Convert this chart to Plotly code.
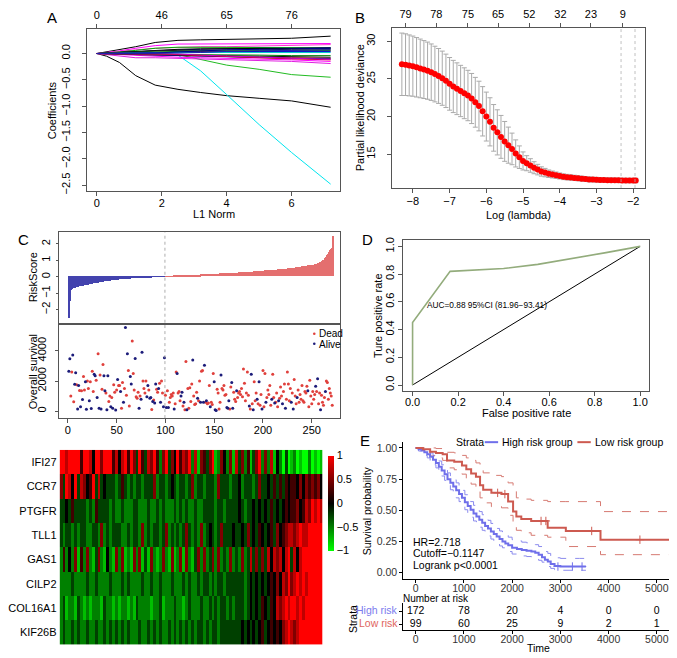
import plotly.graph_objects as go

# The page body has an 8px margin: the figure is sized to fill the rest of the window
PAGE_W, PAGE_H = 677, 658
OFF = 8
W, H = PAGE_W - OFF, PAGE_H - OFF
FONT = "Liberation Sans, Arial, sans-serif"


def px(x):
    return (x - OFF) / W


def py(y):
    return 1 - (y - OFF) / H


# ---------------- Panel A: LASSO coefficient paths ----------------
l1_norm = [0, 0.3, 0.7, 1.2, 1.8, 2.5, 3.2, 4.0, 5.0, 6.0, 7.2]
coef_paths = [
    [0, 0.03, 0.07, 0.13, 0.21, 0.25, 0.26, 0.27, 0.28, 0.29, 0.33],
    [0, -0.05, -0.17, -0.42, -0.60, -0.68, -0.74, -0.80, -0.85, -0.90, -1.02],
    [0, 0, 0, 0, -0.01, -0.03, -0.33, -0.78, -1.35, -1.88, -2.48],
    [0, 0, 0, 0, 0, -0.02, -0.12, -0.22, -0.30, -0.40, -0.45],
    [0, 0.02, 0.05, 0.10, 0.15, 0.18, 0.18, 0.18, 0.18, 0.18, 0.19],
    [0, 0.02, 0.04, 0.07, 0.10, 0.12, 0.13, 0.13, 0.14, 0.15, 0.17],
    [0, 0.01, 0.03, 0.06, 0.10, 0.12, 0.12, 0.12, 0.12, 0.11, 0.11],
    [0, 0.01, 0.02, 0.04, 0.06, 0.07, 0.08, 0.09, 0.10, 0.10, 0.11],
    [0, 0.01, 0.03, 0.05, 0.07, 0.08, 0.09, 0.09, 0.09, 0.10, 0.10],
    [0, 0.01, 0.02, 0.04, 0.05, 0.06, 0.06, 0.07, 0.07, 0.08, 0.08],
    [0, 0.005, 0.01, 0.02, 0.03, 0.03, 0.04, 0.04, 0.05, 0.05, 0.05],
    [0, 0, 0.01, 0.02, 0.03, 0.04, 0.05, 0.05, 0.06, 0.06, 0.06],
    [0, 0, 0.01, 0.01, 0.02, 0.02, 0.03, 0.03, 0.04, 0.04, 0.04],
    [0, 0, 0, 0.01, 0.01, 0.02, 0.02, 0.02, 0.02, 0.02, 0.02],
    [0, -0.01, -0.02, -0.04, -0.06, -0.07, -0.08, -0.09, -0.10, -0.12, -0.15],
    [0, -0.02, -0.05, -0.08, -0.08, -0.09, -0.10, -0.11, -0.13, -0.15, -0.19],
    [0, -0.01, -0.01, -0.02, -0.03, -0.04, -0.05, -0.06, -0.07, -0.08, -0.09],
    [0, 0, -0.01, -0.02, -0.03, -0.04, -0.05, -0.06, -0.08, -0.09, -0.10],
    [0, 0, -0.01, -0.01, -0.02, -0.03, -0.03, -0.04, -0.05, -0.06, -0.07],
    [0, 0, 0, -0.01, -0.01, -0.02, -0.02, -0.03, -0.03, -0.04, -0.04],
    [0, 0, 0, 0, -0.01, -0.02, -0.04, -0.06, -0.08, -0.10, -0.12],
    [0, 0, 0, 0, 0, -0.01, -0.03, -0.05, -0.07, -0.09, -0.11],
    [0, 0, 0, 0, 0.01, 0.03, 0.05, 0.07, 0.08, 0.09, 0.10],
    [0, 0, 0, 0, 0, 0.01, 0.02, 0.04, 0.05, 0.06, 0.07],
]
coef_colors = ["#000000", "#000000", "#00E5EE", "#22BB22", "#FF00FF", "#FF33CC",
               "#00B000", "#000080", "#000000", "#202020", "#FF0000", "#00A000",
               "#0000CC", "#00CCCC", "#FF00FF", "#E020E0", "#E00000", "#1010A0",
               "#101010", "#008000", "#CC0000", "#CC00CC", "#000090", "#2020B0"]
a_top_vals = [0, 2, 4, 6]
a_top_text = ["0", "46", "65", "76"]

# ---------------- Panel B: cross-validation ----------------
b_loglambda = [-8.3, -8.2, -8.1, -8.0, -7.9, -7.8, -7.7, -7.6, -7.5, -7.4,
               -7.3, -7.2, -7.1, -7.0, -6.9, -6.8, -6.7, -6.6, -6.5, -6.4,
               -6.3, -6.2, -6.1, -6.0, -5.9, -5.8, -5.7, -5.6, -5.5, -5.4,
               -5.3, -5.2, -5.1, -5.0, -4.9, -4.8, -4.7, -4.6, -4.5, -4.4,
               -4.3, -4.2, -4.1, -4.0, -3.9, -3.8, -3.7, -3.6, -3.5, -3.4,
               -3.3, -3.2, -3.1, -3.0, -2.9, -2.8, -2.7, -2.6, -2.5, -2.4,
               -2.3, -2.2, -2.1, -2.0, -1.93]
b_deviance = [26.95, 26.9, 26.8, 26.7, 26.55, 26.4, 26.25, 26.1, 25.9, 25.65,
              25.4, 25.1, 24.75, 24.35, 24.0, 23.7, 23.4, 23.1, 22.8, 22.4,
              21.9, 21.4, 20.7, 20.0, 19.3, 18.5, 17.9, 17.3, 16.7, 16.2,
              15.7, 15.1, 14.6, 14.1, 13.8, 13.5, 13.2, 12.95, 12.7, 12.55,
              12.4, 12.3, 12.2, 12.1, 12.0, 11.95, 11.9, 11.85, 11.8, 11.75,
              11.7, 11.65, 11.62, 11.6, 11.58, 11.56, 11.55, 11.54, 11.53, 11.52,
              11.51, 11.5, 11.5, 11.5, 11.5]
b_se = [4.15, 4.1, 4.05, 4.0, 3.95, 3.9, 3.85, 3.8, 3.75, 3.7,
        3.65, 3.6, 3.55, 3.5, 3.47, 3.44, 3.41, 3.38, 3.35, 3.33,
        3.31, 3.3, 3.28, 3.25, 3.2, 3.1, 3.0, 2.85, 2.65, 2.4,
        2.1, 1.8, 1.5, 1.2, 1.0, 0.9, 0.8, 0.7, 0.62, 0.56,
        0.5, 0.46, 0.43, 0.4, 0.38, 0.37, 0.36, 0.35, 0.34, 0.34,
        0.33, 0.33, 0.32, 0.32, 0.32, 0.31, 0.31, 0.31, 0.3, 0.3,
        0.3, 0.3, 0.3, 0.3, 0.3]
b_top_vals = [-8.2, -7.36, -6.5, -5.68, -4.83, -3.98, -3.15, -2.28]
b_top_text = ["79", "78", "75", "65", "52", "32", "23", "9"]
b_vlines = [-2.33, -1.95]

# ---------------- Panel C: risk score, survival, heatmap ----------------
risk_score = [
    -2.55, -1.5, -0.8, -0.74, -0.72, -0.7, -0.68, -0.66, -0.64, -0.62,
    -0.6, -0.58, -0.57, -0.56, -0.55, -0.54, -0.53, -0.52, -0.51, -0.5,
    -0.48, -0.46, -0.45, -0.44, -0.42, -0.41, -0.4, -0.39, -0.38, -0.37,
    -0.36, -0.35, -0.34, -0.33, -0.32, -0.31, -0.3, -0.29, -0.28, -0.27,
    -0.26, -0.25, -0.25, -0.24, -0.23, -0.22, -0.22, -0.21, -0.2, -0.2,
    -0.19, -0.18, -0.18, -0.17, -0.17, -0.16, -0.16, -0.15, -0.15, -0.14,
    -0.14, -0.13, -0.13, -0.12, -0.12, -0.11, -0.11, -0.1, -0.1, -0.09,
    -0.09, -0.085, -0.08, -0.075, -0.07, -0.065, -0.06, -0.055, -0.05, -0.048,
    -0.045, -0.042, -0.04, -0.037, -0.034, -0.031, -0.028, -0.025, -0.022, -0.02,
    -0.018, -0.016, -0.014, -0.012, -0.01, -0.008, -0.006, -0.004, -0.002,
    0.002, 0.005, 0.008, 0.012, 0.016, 0.02, 0.024, 0.028, 0.032, 0.036,
    0.04, 0.044, 0.048, 0.052, 0.056, 0.06, 0.063, 0.066, 0.069, 0.072,
    0.075, 0.078, 0.081, 0.084, 0.087, 0.09, 0.093, 0.096, 0.099, 0.102,
    0.105, 0.108, 0.111, 0.114, 0.117, 0.12, 0.123, 0.126, 0.129, 0.132,
    0.135, 0.138, 0.141, 0.144, 0.147, 0.15, 0.153, 0.156, 0.159, 0.162,
    0.165, 0.168, 0.171, 0.174, 0.177, 0.18, 0.183, 0.186, 0.189, 0.192,
    0.195, 0.198, 0.201, 0.204, 0.207, 0.21, 0.213, 0.216, 0.219, 0.222,
    0.225, 0.228, 0.231, 0.235, 0.239, 0.243, 0.247, 0.251, 0.255, 0.259,
    0.263, 0.267, 0.271, 0.275, 0.279, 0.283, 0.287, 0.291, 0.295, 0.3,
    0.305, 0.31, 0.315, 0.32, 0.325, 0.33, 0.335, 0.34, 0.345, 0.35,
    0.355, 0.36, 0.365, 0.37, 0.375, 0.38, 0.385, 0.39, 0.395, 0.4,
    0.405, 0.41, 0.415, 0.42, 0.425, 0.43, 0.436, 0.442, 0.448, 0.454,
    0.46, 0.466, 0.472, 0.478, 0.484, 0.49, 0.497, 0.504, 0.511, 0.518,
    0.525, 0.532, 0.54, 0.548, 0.556, 0.564, 0.572, 0.58, 0.59, 0.6,
    0.61, 0.62, 0.63, 0.64, 0.65, 0.66, 0.67, 0.68, 0.69, 0.7,
    0.71, 0.72, 0.73, 0.74, 0.76, 0.78, 0.8, 0.83, 0.86, 0.9,
    0.94, 0.98, 1.03, 1.1, 1.18, 1.28, 1.4, 1.52, 1.6, 1.65,
    1.75, 2.45]
n_low_risk = 99

surv_time = [
    2650, 3480, 1000, 2600, 3720, 620, 1780, 2550, 1760, 150,
    1700, 1380, 300, 1350, 780, 2300, 1400, 1950, 130, 2000,
    1500, 700, 1950, 180, 2650, 1300, 2450, 2350, 2050, 900,
    3800, 200, 2400, 150, 1450, 3100, 2350, 1350, 1200, 100,
    2350, 650, 1000, 300, 900, 200, 1750, 1250, 80, 1400,
    2100, 1700, 1700, 1300, 200, 1900, 600, 1500, 5550, 1050,
    3800, 2700, 350, 2300, 1800, 4650, 2500, 1400, 3500, 950,
    850, 1250, 200, 1000, 800, 3900, 2000, 1500, 1200, 2000,
    950, 1700, 1400, 850, 900, 120, 650, 750, 550, 1800,
    1450, 1250, 1500, 1850, 600, 2000, 1200, 300, 3550, 1050,
    250, 1350, 250, 600, 900, 1100, 1000, 1200, 150, 500,
    2600, 2500, 1200, 1300, 700, 1000, 1250, 350, 600, 100,
    3300, 100, 1500, 200, 1550, 650, 1800, 3400, 1000, 450,
    500, 1250, 850, 700, 2000, 600, 2650, 2700, 600, 3050,
    600, 700, 500, 550, 1700, 300, 600, 450, 2500, 1950,
    100, 50, 1450, 1200, 150, 600, 2400, 1500, 1400, 1700,
    1050, 1100, 250, 200, 700, 150, 1600, 1900, 200, 1250,
    800, 650, 1350, 900, 1200, 1300, 1100, 1500, 950, 2800,
    1850, 700, 1200, 2600, 1050, 350, 150, 2450, 500, 100,
    1950, 700, 1200, 800, 500, 1950, 400, 1100, 150, 2700,
    300, 2500, 600, 900, 1400, 1100, 1700, 400, 800, 2450,
    900, 550, 600, 1200, 300, 700, 850, 1600, 1000, 500,
    1300, 1800, 200, 800, 2600, 1800, 700, 1500, 600, 1200,
    150, 2100, 1000, 500, 900, 1400, 600, 1100, 800, 1700,
    700, 600, 1300, 1200, 1650, 1350, 300, 2050, 1000, 500,
    1300, 800, 1100, 1650, 1300, 2150, 500, 1200, 100, 1050,
    600, 400, 900, 1300, 2000, 1900, 800, 1500, 1200, 1000,
    400]
surv_status = ("AADDADAADA" "ADADADDAAD" "DADADDAADA" "DADADDAADA" "ADDADADDAD"
               "ADDADDADAD" "ADDAADDDAD" "DDADAADDDD" "AADAADADAA" "DDADADDAAD"
               "ADADDDDDAD" "DADDDAADAD" "DADDDDDADD" "DDADDADDAA" "DADDDADDDA"
               "AADDDDADDD" "DDAAADDAAD" "DDADDDDDDD" "DDDDDADADA" "DDDADADDAD"
               "DDADDDDDAD" "DADDDADDDA" "DDADDDDDAD" "ADDDADDDDD" "DDDDDADDDD"
               "DDDADADDAD" "DDDADDDDDD" "D")

genes = ["IFI27", "CCR7", "PTGFR", "TLL1", "GAS1", "CILP2", "COL16A1", "KIF26B"]
# expression levels coded 0..8  (0 = -1, 4 = 0, 8 = +1)
expr_IFI27 = ("8878888588" "7488688857" "4785863853" "7685268364" "8576827165"
              "3681264261" "7362513682" "6271420301" "2010020101")
expr_CCR7 = ("6387483764" "5837343332" "3532323323" "3362332343" "2332362332"
             "3332633323" "3423332363" "3435353545" "5464656564")
expr_PTGFR = ("3343533332" "3253333232" "2322233222" "3223232223" "2323223223"
              "3332332333" "3432334343" "4353434545" "5645768787")
expr_TLL1 = ("3233232332" "2332623233" "3223233262" "3233236232" "3236323262"
             "3432363334" "3343634354" "3453645677" "6787788888")
expr_GAS1 = ("2524261526" "2136214216" "2612162613" "1621262161" "2616213626"
             "2362623262" "3262373636" "3747674783" "7478888888")
expr_CILP2 = ("2222322223" "2232222322" "2323222232" "2322322232" "2232322323"
              "3232332333" "3332343434" "3454647686" "7878788888")
expr_COL16A1 = ("2312213212" "1222132212" "1221213222" "2122312223" "2212322232"
                "2323233232" "3332343435" "4354767878" "8787888888")
expr_KIF26B = ("2322323223" "2232232323" "2323222322" "3232322323" "2323232332"
               "3233233333" "3343434345" "3454546787" "6788888888")
expr_codes = [expr_IFI27, expr_CCR7, expr_PTGFR, expr_TLL1, expr_GAS1,
              expr_CILP2, expr_COL16A1, expr_KIF26B]

# ---------------- Panel D: ROC ----------------
roc_fpr = [0.0, 0.0, 0.165, 0.4, 0.55, 0.7, 0.85, 1.0]
roc_tpr = [0.0, 0.45, 0.82, 0.84, 0.87, 0.91, 0.955, 1.0]

# ---------------- Panel E: Kaplan-Meier ----------------
high_t = [0, 60, 120, 180, 240, 300, 360, 420, 480, 540,
          600, 660, 720, 780, 840, 900, 960, 1020, 1080, 1140,
          1200, 1260, 1320, 1380, 1440, 1500, 1560, 1620, 1680, 1740,
          1800, 1860, 1920, 2000, 2100, 2200, 2300, 2400, 2480, 2550,
          2620, 2680, 2740, 2800, 2880, 3000, 3200, 3400, 3530]
high_s = [1.0, 0.99, 0.98, 0.965, 0.95, 0.93, 0.905, 0.88, 0.85, 0.82,
          0.79, 0.75, 0.72, 0.69, 0.66, 0.63, 0.60, 0.565, 0.535, 0.505,
          0.475, 0.45, 0.425, 0.40, 0.375, 0.355, 0.33, 0.31, 0.29, 0.27,
          0.25, 0.235, 0.22, 0.2, 0.19, 0.182, 0.176, 0.17, 0.16, 0.145,
          0.125, 0.105, 0.09, 0.07, 0.055, 0.05, 0.05, 0.05, 0.05]
high_hi = [1.0, 1.0, 0.995, 0.985, 0.975, 0.96, 0.94, 0.92, 0.895, 0.865,
           0.84, 0.80, 0.775, 0.745, 0.72, 0.69, 0.66, 0.625, 0.6, 0.57,
           0.54, 0.515, 0.49, 0.465, 0.44, 0.42, 0.395, 0.375, 0.355, 0.335,
           0.315, 0.3, 0.285, 0.265, 0.255, 0.245, 0.24, 0.235, 0.225, 0.21,
           0.19, 0.17, 0.155, 0.135, 0.12, 0.115, 0.115, 0.115, 0.115]
high_lo = [1.0, 0.975, 0.96, 0.94, 0.92, 0.895, 0.865, 0.84, 0.805, 0.775,
           0.74, 0.70, 0.665, 0.635, 0.6, 0.57, 0.54, 0.505, 0.475, 0.445,
           0.415, 0.39, 0.365, 0.34, 0.315, 0.295, 0.27, 0.255, 0.235, 0.215,
           0.2, 0.185, 0.17, 0.15, 0.14, 0.135, 0.13, 0.125, 0.115, 0.1,
           0.085, 0.065, 0.05, 0.035, 0.025, 0.02, 0.02, 0.02, 0.02]
low_t = [0, 150, 300, 420, 560, 650, 800, 960, 1050, 1150,
         1250, 1335, 1400, 1570, 1780, 1917, 2020, 2088, 2190, 2395,
         2737, 3114, 3833, 5330]
low_s = [1.0, 0.99, 0.97, 0.96, 0.95, 0.90, 0.89, 0.86, 0.83, 0.795,
         0.77, 0.70, 0.665, 0.64, 0.63, 0.57, 0.49, 0.45, 0.43, 0.415,
         0.36, 0.335, 0.265, 0.265]
low_hi = [1.0, 1.0, 1.0, 0.995, 0.99, 0.965, 0.96, 0.94, 0.92, 0.9,
          0.88, 0.83, 0.8, 0.78, 0.77, 0.72, 0.65, 0.6, 0.59, 0.58,
          0.57, 0.57, 0.49, 0.49]
low_lo = [1.0, 0.97, 0.935, 0.92, 0.9, 0.84, 0.825, 0.79, 0.75, 0.71,
          0.68, 0.6, 0.56, 0.53, 0.52, 0.46, 0.38, 0.34, 0.32, 0.3,
          0.285, 0.21, 0.145, 0.145]
high_cens_t = [2950, 3250, 3450]
high_cens_s = [0.05, 0.05, 0.05]
low_cens_t = [1700, 1850, 2600, 2700, 3650, 4650]
low_cens_s = [0.64, 0.63, 0.415, 0.415, 0.335, 0.265]
risk_times = [0, 1000, 2000, 3000, 4000, 5000]
n_high = [172, 78, 20, 4, 0, 0]
n_low = [99, 60, 25, 9, 2, 1]

# =====================================================================
BLUE_KM = "#6F6FEA"
RED_KM = "#CD5A50"
BAR_BLUE = "#4343AE"
BAR_RED = "#E46F6F"
FRAME = "#555555"
EFS = 10.5  # ggplot text size

fig = go.Figure()

# --- A ---
for vals, col in zip(coef_paths, coef_colors):
    fig.add_trace(go.Scatter(x=l1_norm, y=vals, mode="lines",
                             line=dict(color=col, width=1), xaxis="x", yaxis="y",
                             showlegend=False, hoverinfo="skip"))
fig.add_trace(go.Scatter(x=[0], y=[0], mode="markers", marker=dict(opacity=0),
                         xaxis="x2", yaxis="y", showlegend=False, hoverinfo="skip"))

# --- B ---
fig.add_trace(go.Scatter(x=b_loglambda, y=b_deviance, mode="markers",
                         marker=dict(color="#FF0000", size=6),
                         error_y=dict(type="data", array=b_se, color="#AAAAAA",
                                      thickness=1, width=2.5),
                         xaxis="x3", yaxis="y3", showlegend=False, hoverinfo="skip"))
fig.add_trace(go.Scatter(x=[-5], y=[20], mode="markers", marker=dict(opacity=0),
                         xaxis="x4", yaxis="y3", showlegend=False, hoverinfo="skip"))

# --- C top: risk score bars ---
idx = list(range(1, len(risk_score) + 1))
bar_cols = [BAR_BLUE if i <= n_low_risk else BAR_RED for i in idx]
fig.add_trace(go.Bar(x=idx, y=risk_score, marker=dict(color=bar_cols, line=dict(width=0)),
                     width=1.0, xaxis="x5", yaxis="y5", showlegend=False, hoverinfo="skip"))

# --- C middle: survival scatter ---
dead_x, dead_y, alive_x, alive_y = [], [], [], []
for i, (t, s) in enumerate(zip(surv_time, surv_status), start=1):
    if s == "D":
        dead_x.append(i); dead_y.append(t)
    else:
        alive_x.append(i); alive_y.append(t)
fig.add_trace(go.Scatter(x=dead_x, y=dead_y, mode="markers",
                         marker=dict(color="#E0403C", size=3),
                         xaxis="x6", yaxis="y6", showlegend=False, hoverinfo="skip"))
fig.add_trace(go.Scatter(x=alive_x, y=alive_y, mode="markers",
                         marker=dict(color="#1C1C7A", size=3),
                         xaxis="x6", yaxis="y6", showlegend=False, hoverinfo="skip"))

# --- C bottom: heatmap ---
ncol = min(len(s) for s in expr_codes)
z = [[int(c) / 4.0 - 1.0 for c in s[:ncol]] for s in expr_codes]
fig.add_trace(go.Heatmap(
    z=z, x=list(range(ncol)), y=list(range(len(genes))),
    colorscale=[[0, "#00FF00"], [0.5, "#000000"], [1, "#FF0000"]],
    zmin=-1, zmax=1, xaxis="x7", yaxis="y7", hoverinfo="skip",
    colorbar=dict(x=px(325), xanchor="left", y=py(503.5), yanchor="middle",
                  len=(552 - 455) / H, lenmode="fraction", thickness=6,
                  thicknessmode="pixels", outlinewidth=0, xpad=0, ypad=0,
                  tickvals=[-1, -0.5, 0, 0.5, 1], ticktext=["\u22121", "\u22120.5", "0", "0.5", "1"],
                  ticks="", tickfont=dict(size=11, family=FONT, color="black"))))

# --- D: ROC ---
fig.add_trace(go.Scatter(x=[0, 1], y=[0, 1], mode="lines", line=dict(color="black", width=1),
                         xaxis="x8", yaxis="y8", showlegend=False, hoverinfo="skip"))
fig.add_trace(go.Scatter(x=roc_fpr, y=roc_tpr, mode="lines", line=dict(color="#93AC7C", width=1.6),
                         xaxis="x8", yaxis="y8", showlegend=False, hoverinfo="skip"))

# --- E: KM ---
for t, lo, hi, col in [(high_t, high_lo, high_hi, BLUE_KM), (low_t, low_lo, low_hi, RED_KM)]:
    for arr in (lo, hi):
        fig.add_trace(go.Scatter(x=t, y=arr, mode="lines", line=dict(color=col, width=1, dash="dash", shape="hv"),
                                 opacity=0.8, xaxis="x9", yaxis="y9", showlegend=False, hoverinfo="skip"))
fig.add_trace(go.Scatter(x=high_t, y=high_s, mode="lines", line=dict(color=BLUE_KM, width=2, shape="hv"),
                         xaxis="x9", yaxis="y9", showlegend=False, hoverinfo="skip"))
fig.add_trace(go.Scatter(x=low_t, y=low_s, mode="lines", line=dict(color=RED_KM, width=2, shape="hv"),
                         xaxis="x9", yaxis="y9", showlegend=False, hoverinfo="skip"))
fig.add_trace(go.Scatter(x=high_cens_t, y=high_cens_s, mode="markers",
                         marker=dict(symbol="cross-thin", size=6, line=dict(color=BLUE_KM, width=1)),
                         xaxis="x9", yaxis="y9", showlegend=False, hoverinfo="skip"))
fig.add_trace(go.Scatter(x=low_cens_t, y=low_cens_s, mode="markers",
                         marker=dict(symbol="cross-thin", size=6, line=dict(color=RED_KM, width=1)),
                         xaxis="x9", yaxis="y9", showlegend=False, hoverinfo="skip"))

# --- risk table ---
fig.add_trace(go.Scatter(x=risk_times, y=[1] * len(n_high), mode="text",
                         text=[str(v) for v in n_high], textfont=dict(size=EFS, family=FONT, color="black"),
                         xaxis="x10", yaxis="y10", showlegend=False, hoverinfo="skip"))
fig.add_trace(go.Scatter(x=risk_times, y=[0] * len(n_low), mode="text",
                         text=[str(v) for v in n_low], textfont=dict(size=EFS, family=FONT, color="black"),
                         xaxis="x10", yaxis="y10", showlegend=False, hoverinfo="skip"))

# =====================================================================
tf = dict(size=11, family=FONT, color="black")


def rbox(domain, rng, **kw):
    d = dict(domain=domain, range=rng, showgrid=False, zeroline=False, showline=True,
             mirror=True, linecolor=FRAME, linewidth=1, ticks="outside", ticklen=4,
             tickcolor=FRAME, tickfont=tf)
    d.update(kw)
    return d


xA = [px(82), px(337)]
yA = [py(186), py(21)]
xB = [px(389), px(645)]
yB = [py(183), py(20)]
xC = [px(53), px(337)]
c_range = [-9.5, 279]
xD = [px(401), px(649)]
xE = [px(400.7), px(673)]
e_range = [-259, 5337]
e_tick = dict(size=EFS, family=FONT, color="#333333")

layout = dict(
    width=W, height=H, margin=dict(l=0, r=0, t=0, b=0),
    paper_bgcolor="white", plot_bgcolor="rgba(0,0,0,0)", bargap=0,
    font=dict(family=FONT, size=11, color="black"),
    showlegend=False,
    xaxis=rbox(xA, [-0.29, 7.49], anchor="y", tickvals=[0, 2, 4, 6], ticklabelstandoff=-2),
    xaxis2=dict(overlaying="x", side="top", anchor="y", range=[-0.29, 7.49],
                tickvals=a_top_vals, ticktext=a_top_text, ticks="outside", ticklen=4,
                tickcolor=FRAME, showgrid=False, zeroline=False, showline=False, tickfont=tf),
    yaxis=rbox(yA, [-2.61, 0.47], anchor="x", tickvals=[-2.5, -2.0, -1.5, -1.0, -0.5, 0.0],
               tickformat=".1f", tickangle=-90, ticklabelstandoff=8),
    xaxis3=rbox(xB, [-8.58, -1.67], anchor="y3", tickvals=[-8, -7, -6, -5, -4, -3, -2],
                ticklabelstandoff=-1),
    xaxis4=dict(overlaying="x3", side="top", anchor="y3", range=[-8.58, -1.67],
                tickvals=b_top_vals, ticktext=b_top_text, ticks="outside", ticklen=4,
                tickcolor=FRAME, showgrid=False, zeroline=False, showline=False, tickfont=tf),
    yaxis3=rbox(yB, [10.5, 31.8], anchor="x3", tickvals=[15, 20, 25, 30], tickangle=-90,
                ticklabelstandoff=7),
    xaxis5=rbox(xC, c_range, anchor="y5", showticklabels=False, ticks=""),
    yaxis5=rbox([py(320), py(228)], [-2.8, 2.71], anchor="x5", tickvals=[-2, -1, 0, 1, 2],
                tickangle=-90, ticklen=2, ticklabelstandoff=1),
    xaxis6=rbox(xC, c_range, anchor="y6", tickvals=[0, 50, 100, 150, 200, 250],
                ticklabelstandoff=-2),
    yaxis6=rbox([py(417), py(322)], [-456, 5733], anchor="x6", tickvals=[0, 2000, 4000],
                tickangle=-90, ticklen=3, ticklabelstandoff=4),
    xaxis7=dict(domain=[px(54), px(319.3)], range=[-0.5, ncol - 0.5], anchor="y7",
                showticklabels=False, ticks="", showgrid=False, zeroline=False, showline=False),
    yaxis7=dict(domain=[py(647.3), py(449.3)], range=[len(genes) - 0.5, -0.5], anchor="x7",
                tickvals=list(range(len(genes))), ticktext=genes, ticks="", showgrid=False,
                zeroline=False, showline=False, tickfont=tf, ticklabelstandoff=2),
    xaxis8=rbox(xD, [-0.04, 1.04], anchor="y8", tickvals=[0, 0.2, 0.4, 0.6, 0.8, 1.0],
                tickformat=".1f", ticklabelstandoff=-3),
    yaxis8=rbox([py(389), py(236)], [-0.04, 1.045], anchor="x8",
                tickvals=[0, 0.2, 0.4, 0.6, 0.8, 1.0], tickformat=".1f", tickangle=-90,
                ticklabelstandoff=0),
    xaxis9=dict(domain=xE, range=e_range, anchor="y9", tickvals=risk_times, showgrid=False,
                zeroline=False, showline=True, linecolor="black", linewidth=1, ticks="outside",
                ticklen=3, tickcolor="black", tickfont=e_tick, ticklabelstandoff=-4),
    yaxis9=dict(domain=[py(580.7), py(441)], range=[-0.05, 1.05], anchor="x9",
                tickvals=[0, 0.25, 0.5, 0.75, 1.0], ticktext=["0.00", "0.25", "0.50", "0.75", "1.00"],
                showgrid=False, zeroline=False, showline=True, linecolor="black", linewidth=1,
                ticks="outside", ticklen=3, tickcolor="black", tickfont=e_tick),
    xaxis10=dict(domain=xE, range=e_range, anchor="y10", tickvals=risk_times, showgrid=False,
                 zeroline=False, showline=True, linecolor="black", linewidth=1, ticks="outside",
                 ticklen=3, tickcolor="black", tickfont=e_tick, ticklabelstandoff=-4),
    yaxis10=dict(domain=[py(633), py(605)], range=[-0.5, 1.65], anchor="x10",
                 tickvals=[0, 1], showticklabels=False, showgrid=False, zeroline=False,
                 showline=True, linecolor="black", linewidth=1, ticks="outside", ticklen=3,
                 tickcolor="black"),
)
fig.update_layout(**layout)

# ---------------- shapes ----------------
shapes = []
for v in b_vlines:
    shapes.append(dict(type="line", xref="x3", yref="y3 domain", x0=v, x1=v, y0=0, y1=1,
                       line=dict(color="#B0B0B0", width=0.8, dash="dot")))
for yr in ("y5 domain", "y6 domain"):
    shapes.append(dict(type="line", xref="x5", yref=yr, x0=n_low_risk + 0.5, x1=n_low_risk + 0.5,
                       y0=0, y1=1, line=dict(color="#999999", width=0.8, dash="dot")))
# C legend dots
shapes.append(dict(type="circle", xref="paper", yref="paper", x0=px(309.7), x1=px(312.3),
                   y0=py(332.6), y1=py(330.0), fillcolor="#E0403C", line=dict(width=0)))
shapes.append(dict(type="circle", xref="paper", yref="paper", x0=px(309.7), x1=px(312.3),
                   y0=py(342.6), y1=py(340.0), fillcolor="#1C1C7A", line=dict(width=0)))
# E legend keys
shapes.append(dict(type="line", xref="paper", yref="paper", x0=px(483), x1=px(496.5),
                   y0=py(441.5), y1=py(441.5), line=dict(color=BLUE_KM, width=2)))
shapes.append(dict(type="line", xref="paper", yref="paper", x0=px(576.5), x1=px(590),
                   y0=py(441.5), y1=py(441.5), line=dict(color=RED_KM, width=2)))
fig.update_layout(shapes=shapes)


# ---------------- annotations ----------------
def txt(x, y, s, size=11, xanchor="center", angle=0, color="black"):
    return dict(x=px(x), y=py(y), xref="paper", yref="paper", text=s, showarrow=False,
                font=dict(size=size, family=FONT, color=color), xanchor=xanchor,
                yanchor="middle", textangle=angle)


ann = [
    txt(46.7, 10, "A", 15), txt(357.3, 10, "B", 15), txt(17.3, 235, "C", 15),
    txt(365, 235, "D", 15), txt(362.3, 439.3, "E", 15),
    txt(209.5, 209.5, "L1 Norm"),
    txt(46.7, 103.5, "Coefficients", angle=-90),
    txt(517, 210, "Log (lambda)"),
    txt(358, 101, "Partial likelihood deviance", angle=-90),
    txt(28, 274, "RiskScore", angle=-90),
    txt(28, 369.5, "Overall survival", angle=-90),
    txt(313.5, 331.3, "Dead", xanchor="left", size=10),
    txt(313.5, 341.7, "Alive", xanchor="left", size=10),
    txt(376, 312.5, "Ture positive rate", angle=-90),
    txt(525, 412, "False positive rate"),
    txt(423, 302.3, "AUC=0.88 95%CI (81.96\u221293.41)", size=8.3, xanchor="left"),
    txt(365, 511, "Survival probability", angle=-90, size=EFS),
    txt(408.3, 542.7, "HR=2.718", xanchor="left", size=EFS),
    txt(408.3, 554.7, "Cutoff=\u22120.1147", xanchor="left", size=EFS),
    txt(408.3, 566.7, "Logrank p<0.0001", xanchor="left", size=EFS),
    txt(451.5, 441.5, "Strata", xanchor="left", size=EFS),
    txt(498.5, 441.5, "High risk group", xanchor="left", size=EFS),
    txt(592, 441.5, "Low risk group", xanchor="left", size=EFS),
    txt(398.3, 600.5, "Number at risk", xanchor="left", size=10),
    txt(397.5, 612.7, "High risk", xanchor="right", color="#7B7BEE", size=EFS),
    txt(397.5, 625.7, "Low risk", xanchor="right", color="#E0655E", size=EFS),
    txt(350, 621.5, "Strata", angle=-90, size=EFS),
    txt(537, 650.5, "Time", size=EFS),
]
fig.update_layout(annotations=ann)

fig.write_html("out.html")
